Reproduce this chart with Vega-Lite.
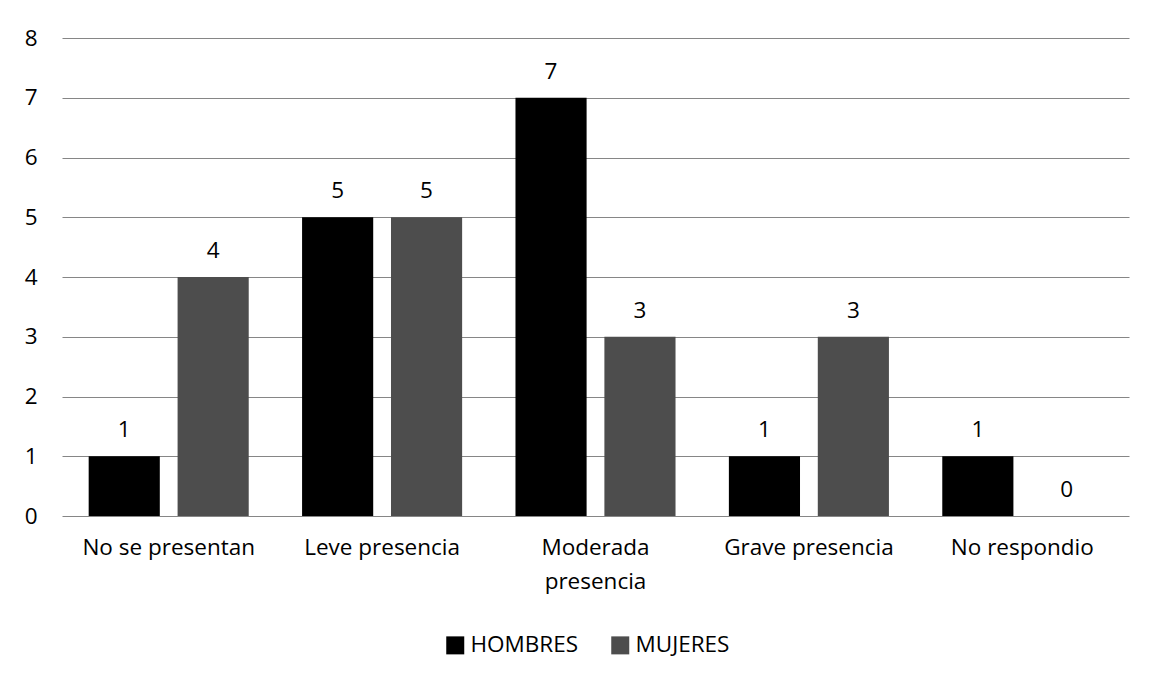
{
  "$schema": "https://vega.github.io/schema/vega-lite/v6.json",
  "width": 1067,
  "height": 478,
  "autosize": {"type": "none"},
  "padding": {"left": 62, "top": 38, "right": 22, "bottom": 159},
  "background": "white",
  "config": {"font": "Open Sans", "view": {"stroke": null}},
  "data": {
    "values": [
      {"categoria": "No se presentan", "sexo": "HOMBRES", "valor": 1},
      {"categoria": "No se presentan", "sexo": "MUJERES", "valor": 4},
      {"categoria": "Leve presencia", "sexo": "HOMBRES", "valor": 5},
      {"categoria": "Leve presencia", "sexo": "MUJERES", "valor": 5},
      {"categoria": "Moderada presencia", "sexo": "HOMBRES", "valor": 7},
      {"categoria": "Moderada presencia", "sexo": "MUJERES", "valor": 3},
      {"categoria": "Grave presencia", "sexo": "HOMBRES", "valor": 1},
      {"categoria": "Grave presencia", "sexo": "MUJERES", "valor": 3},
      {"categoria": "No respondio", "sexo": "HOMBRES", "valor": 1},
      {"categoria": "No respondio", "sexo": "MUJERES", "valor": 0}
    ]
  },
  "encoding": {
    "x": {
      "field": "categoria",
      "type": "nominal",
      "sort": ["No se presentan", "Leve presencia", "Moderada presencia", "Grave presencia", "No respondio"],
      "scale": {"paddingInner": 0.25, "paddingOuter": 0.125},
      "title": null,
      "axis": {
        "domain": false,
        "ticks": false,
        "labelAngle": 0,
        "labelFontSize": 22.5,
        "labelColor": "#000000",
        "labelPadding": 20,
        "labelLineHeight": 34,
        "labelLimit": 0,
        "labelExpr": "datum.value == 'Moderada presencia' ? ['Moderada', 'presencia'] : datum.value"
      }
    },
    "xOffset": {
      "field": "sexo",
      "type": "nominal",
      "sort": ["HOMBRES", "MUJERES"],
      "scale": {"paddingInner": 0.2, "paddingOuter": 0}
    },
    "y": {
      "field": "valor",
      "type": "quantitative",
      "scale": {"domain": [0, 8]},
      "title": null,
      "axis": {
        "domain": false,
        "ticks": false,
        "tickCount": 8,
        "grid": true,
        "gridColor": "#868686",
        "gridWidth": 1,
        "labelPadding": 25,
        "labelFontSize": 22.5,
        "labelColor": "#000000"
      }
    }
  },
  "layer": [
    {
      "mark": {"type": "bar"},
      "encoding": {
        "color": {
          "field": "sexo",
          "type": "nominal",
          "scale": {"domain": ["HOMBRES", "MUJERES"], "range": ["#000000", "#4d4d4d"]},
          "legend": {
            "orient": "none",
            "legendX": 382,
            "legendY": 596,
            "direction": "horizontal",
            "title": null,
            "symbolType": "square",
            "symbolSize": 324,
            "symbolStrokeWidth": 0,
            "symbolOpacity": 1,
            "labelFontSize": 22.5,
            "labelColor": "#000000",
            "labelOffset": 4,
            "columnPadding": 30,
            "padding": 0
          }
        }
      }
    },
    {
      "mark": {"type": "text", "dy": -26, "fontSize": 22.5, "baseline": "middle", "color": "#000000"},
      "encoding": {"text": {"field": "valor", "type": "quantitative"}}
    }
  ]
}
